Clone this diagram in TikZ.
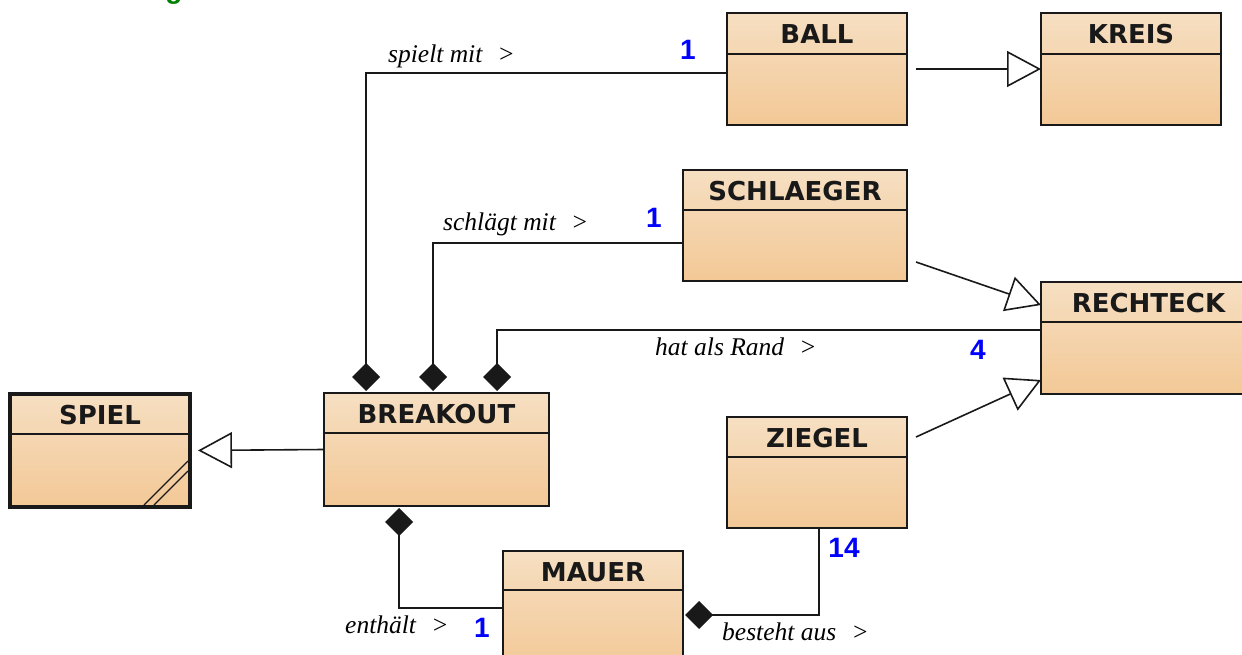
\documentclass[tikz,border=0pt]{standalone}
\usepackage{fontspec}
\setmainfont{Liberation Serif}
\newfontfamily\ttlfont{DejaVu Sans}
\newfontfamily\numfont{Liberation Sans}
\usetikzlibrary{arrows.meta,calc}
\definecolor{boxtop}{RGB}{246,223,194}
\definecolor{boxbot}{RGB}{243,200,150}
\definecolor{edge}{RGB}{25,25,25}
\definecolor{numblue}{RGB}{0,0,255}
\definecolor{ttlgreen}{RGB}{0,128,0}
\begin{document}
\begin{tikzpicture}[x=1pt,y=-1pt,
  cls/.style={draw=edge, line width=1.6pt, top color=boxtop, bottom color=boxbot,
    anchor=north west, inner sep=0pt, outer sep=0pt, minimum width=180pt, minimum height=112pt},
  ttl/.style={font=\ttlfont\bfseries\fontsize{26}{28}\selectfont, text=black!90},
  lbl/.style={font=\itshape\fontsize{25.5}{28}\selectfont, anchor=base west, inner sep=0pt},
  num/.style={font=\numfont\bfseries\fontsize{28}{30}\selectfont, text=numblue, inner sep=0pt},
  conn/.style={draw=edge, line width=1.6pt},
  gen/.style={conn, -{Triangle[open, length=34pt, width=36pt, line width=1.6pt]}},
  comp/.style={conn, {Diamond[length=28pt, width=28pt]}-}
]
\useasboundingbox (0,0) rectangle (1242,655);
\clip (0,0) rectangle (1242,655);
\fill[white] (0,0) rectangle (1242,655);

% partially visible title
\node[font=\numfont\bfseries\fontsize{28}{30}\selectfont, text=ttlgreen, anchor=base, inner sep=0pt] (heading) at (174,-1) {g};

% classes
\node[cls] (ball) at (727,13) {};
\node[cls] (kreis) at (1041,13) {};
\node[cls, minimum width=224pt, minimum height=111pt] (schlaeger) at (683,170) {};
\node[cls, minimum width=215pt] (rechteck) at (1041,282) {};
\node[cls, line width=3.6pt, minimum height=113pt] (spiel) at (10,394) {};
\node[cls, minimum width=225pt, minimum height=113pt] (breakout) at (324,393) {};
\node[cls, minimum height=111pt] (ziegel) at (727,417) {};
\node[cls, minimum height=120pt] (mauer) at (503,551) {};

% header separators
\foreach \n/\h in {ball/41, kreis/41, schlaeger/40, rechteck/40, breakout/40, ziegel/40, mauer/39}
  \draw[edge, line width=1.6pt] ($(\n.north west)+(0,\h)$) -- ($(\n.north east)+(0,\h)$);
\draw[edge, line width=1.8pt] ($(spiel.north west)+(0,40)$) -- ($(spiel.north east)+(0,40)$);

% titles
\node[ttl] (tball) at ($(ball.north)+(0,21)$) {BALL};
\node[ttl] (tkreis) at ($(kreis.north)+(0,21)$) {KREIS};
\node[ttl] (tschlaeger) at ($(schlaeger.north)+(0,21)$) {SCHLAEGER};
\node[ttl] (trechteck) at ($(rechteck.north)+(0,21)$) {RECHTECK};
\node[ttl] (tspiel) at ($(spiel.north)+(0,21)$) {SPIEL};
\node[ttl] (tbreakout) at ($(breakout.north)+(0,21)$) {BREAKOUT};
\node[ttl] (tziegel) at ($(ziegel.north)+(0,21)$) {ZIEGEL};
\node[ttl] (tmauer) at ($(mauer.north)+(0,21)$) {MAUER};

% abstract corner mark of SPIEL
\draw[edge, line width=1.3pt] ($(spiel.south east)+(-46,-2)$) -- ($(spiel.south east)+(-2,-46)$);
\draw[edge, line width=1.3pt] ($(spiel.south east)+(-36,-2)$) -- ($(spiel.south east)+(-2,-36)$);

% generalisations
\draw[gen, shorten >=8pt] (breakout.west) -- (spiel.east);
\draw[gen, shorten <=9pt] (ball.east) -- (kreis.west);
\draw[gen] ($(schlaeger.south east)+(9,-19)$) -- ($(rechteck.north west)+(0,23)$);
\draw[gen] ($(ziegel.north east)+(9,20)$) -- ($(rechteck.south west)+(0,-14)$);

% compositions
\draw[comp] ($(breakout.north west)+(42,-2)$) |- ($(ball.north west)+(0,60)$);
\draw[comp] ($(breakout.north west)+(109,-2)$) |- ($(schlaeger.north west)+(0,73)$);
\draw[comp] ($(breakout.north west)+(173,-2)$) |- ($(rechteck.north west)+(0,48)$);
\draw[comp] ($(breakout.south west)+(75,2)$) |- ($(mauer.north west)+(0,57)$);
\draw[comp] ($(mauer.north east)+(2,64)$) -| ($(ziegel.south west)+(92,0)$);

% labels
\node[lbl] (l1) at (388,63) {spielt mit\hspace{0.6em}>};
\node[num] (m1) at (688,50) {1};
\node[lbl] (l2) at (443,231) {schlägt mit\hspace{0.6em}>};
\node[num] (m2) at (654,218) {1};
\node[lbl] (l3) at (655,355) {hat als Rand\hspace{0.6em}>};
\node[num] (m3) at (978,350) {4};
\node[lbl] (l4) at (345,633) {enthält\hspace{0.6em}>};
\node[num] (m4) at (482,628) {1};
\node[lbl] (l5) at (722,640) {besteht aus\hspace{0.6em}>};
\node[num] (m5) at (844,548) {14};
\end{tikzpicture}
\end{document}
